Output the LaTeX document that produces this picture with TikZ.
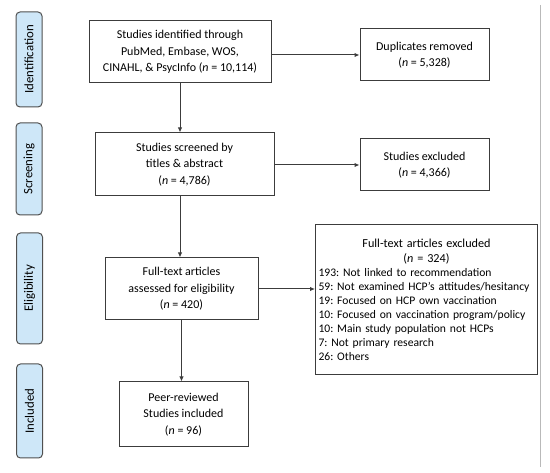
\documentclass[tikz,border=0pt]{standalone}
\usepackage{fontspec}
\setmainfont{Carlito}
\usetikzlibrary{arrows.meta}
\definecolor{tabfill}{RGB}{206,231,248}
\definecolor{linec}{RGB}{60,60,60}
\frenchspacing
\begin{document}
\begin{tikzpicture}[x=1pt,y=-1pt,
  box/.style={draw=linec,line width=1pt,fill=white,align=center,inner sep=2pt,font=\fontsize{12}{16.5}\selectfont},
  tab/.style={draw=linec!90,line width=1pt,fill=tabfill,rounded corners=4pt,minimum width=26pt,font=\fontsize{12.8}{14}\selectfont},
  conn/.style={draw=linec,line width=1pt,-{Latex[length=5pt,width=4.5pt]}}]
\useasboundingbox (0,0) rectangle (550,473);
\draw[gray!55,line width=0.8pt] (540,5) -- (540,467);
% phase tabs
\node[tab,minimum height=95pt] (tid) at (29,59.5) {\rotatebox{90}{Identification}};
\node[tab,minimum height=92pt] (tsc) at (29,169) {\rotatebox{90}{Screening}};
\node[tab,minimum height=111pt] (tel) at (29.5,288.5) {\rotatebox{90}{Eligibility}};
\node[tab,minimum height=94pt] (tin) at (29.5,411) {\rotatebox{90}{Included}};
% main boxes
\node[box,minimum width=182pt,minimum height=62pt] (b1) at (180,52) {Studies identified through\\PubMed, Embase, WOS,\\CINAHL, \& PsycInfo (\textit{n} = 10,114)};
\node[box,minimum width=179pt,minimum height=63pt] (b2) at (184.5,164.5) {Studies screened by\\titles \& abstract\\(\textit{n} = 4,786)};
\node[box,minimum width=153pt,minimum height=62pt] (b3) at (181.5,289) {Full-text articles\\assessed for eligibility\\(\textit{n} = 420)};
\node[box,minimum width=129pt,minimum height=65pt] (b4) at (183.5,414.5) {Peer-reviewed\\Studies included\\(\textit{n} = 96)};
% side boxes
\node[box,minimum width=129pt,minimum height=52pt] (d1) at (424.5,55) {Duplicates removed\\(\textit{n} = 5,328)};
\node[box,minimum width=129pt,minimum height=52pt] (d2) at (424.5,165) {Studies excluded\\(\textit{n} = 4,366)};
\node[box,anchor=north west,minimum width=222pt,minimum height=150pt,text width=216pt,align=left,inner sep=3pt,font=\fontsize{11.6}{14}\selectfont] (d3) at (315,224) {\makebox[\linewidth]{\fontsize{12.2}{14}\selectfont Full-text articles excluded}\\[1pt]
\makebox[\linewidth]{\fontsize{12.2}{14}\selectfont (\textit{n} = 324)}\\
193: Not linked to recommendation\\
59: Not examined HCP's attitudes/hesitancy\\
19: Focused on HCP own vaccination\\
10: Focused on vaccination program/policy\\
10: Main study population not HCPs\\
7: Not primary research\\
26: Others\\[8pt]};
% connectors
\draw[conn] (b1.south) -- (b1.south |- b2.north);
\draw[conn] (b2.south -| b1.south) -- (b1.south |- b3.north);
\draw[conn] (b3.south) -- (b3.south |- b4.north);
\draw[conn] (d1.west -| b1.east) -- (d1.west);
\draw[conn] (d2.west -| b2.east) -- (d2.west);
\draw[conn] (b3.east) -- (b3.east -| d3.west);
\end{tikzpicture}
\end{document}
